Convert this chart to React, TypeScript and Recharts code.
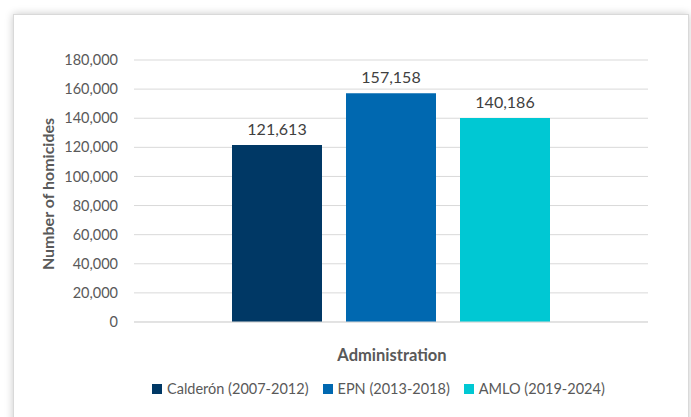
import { Bar, BarChart, CartesianGrid, LabelList, Legend, XAxis, YAxis } from 'recharts';

const categories = ['Homicides'];
const seriesNames = ['Calderón (2007-2012)', 'EPN (2013-2018)', 'AMLO (2019-2024)'];
const seriesKeys = ['calderon', 'epn', 'amlo'];
const seriesValues = [121613, 157158, 140186];
const seriesColors = ['#003865', '#0068b0', '#00c8d3'];
const yTicks = [0, 20000, 40000, 60000, 80000, 100000, 120000, 140000, 160000, 180000];

const data = categories.map((name) => {
  const row: Record<string, string | number> = { name };
  seriesKeys.forEach((k, i) => {
    row[k] = seriesValues[i];
  });
  return row;
});

const FONT = 'Lato, "Open Sans", sans-serif';
const TEXT = '#595959';
const GRID = '#d9d9d9';

const fmt = (v: number) => v.toLocaleString('en-US');

function LegendContent({ payload }: { payload?: Array<{ value: string; color: string }> }) {
  if (!payload) return null;
  // keep the series order instead of the alphabetical one
  const items = [...payload].sort((a, b) => seriesNames.indexOf(a.value) - seriesNames.indexOf(b.value));
  return (
    <div style={{ display: 'flex', alignItems: 'center', fontFamily: FONT, fontSize: 14.5, color: TEXT }}>
      {items.map((p) => (
        <div key={p.value} style={{ display: 'flex', alignItems: 'center', marginRight: 14 }}>
          <span style={{ width: 10, height: 10, background: p.color, marginRight: 5, display: 'inline-block' }} />
          <span>{p.value}</span>
        </div>
      ))}
    </div>
  );
}

export default function App() {
  return (
    <div
      style={{
        position: 'absolute',
        left: 0,
        top: 0,
        width: 691,
        height: 417,
        overflow: 'hidden',
        background: '#ffffff',
      }}
    >
      <style>{'body{margin:0}'}</style>
      <div
        style={{
          position: 'absolute',
          left: 13,
          top: 14,
          width: 674,
          height: 420,
          background: '#fff',
          border: '1px solid #d9d9d9',
          boxShadow: '0 0 8px rgba(0,0,0,0.22)',
        }}
      />
      <div style={{ position: 'absolute', left: 0, top: 0 }}>
        <BarChart
          width={691}
          height={417}
          data={data}
          margin={{ top: 60, right: 43, bottom: 25, left: 0 }}
          barSize={90}
          barGap={24}
        >
          <CartesianGrid vertical={false} stroke={GRID} strokeWidth={1} />
          <XAxis
            dataKey="name"
            tick={false}
            tickLine={false}
            axisLine={{ stroke: GRID }}
            height={50}
            label={{
              content: ({ viewBox }: any) => (
                <text
                  x={viewBox.x + viewBox.width / 2 + 1}
                  y={viewBox.y + 39}
                  textAnchor="middle"
                  fontFamily={FONT}
                  fontSize={16.5}
                  fontWeight="bold"
                  fill={TEXT}
                >
                  Administration
                </text>
              ),
            }}
          />
          <YAxis
            width={134}
            domain={[0, 180000]}
            ticks={yTicks}
            tickFormatter={fmt}
            axisLine={false}
            tickLine={false}
            tickSize={0}
            tickMargin={16}
            tick={{ fill: TEXT, fontSize: 14.5, fontFamily: FONT }}
            label={{
              content: ({ viewBox }: any) => {
                const cy = viewBox.y + viewBox.height / 2 + 3;
                return (
                  <text
                    x={47}
                    y={cy}
                    transform={`rotate(-90, 47, ${cy})`}
                    textAnchor="middle"
                    dominantBaseline="central"
                    fontFamily={FONT}
                    fontSize={16}
                    fontWeight="bold"
                    fill={TEXT}
                  >
                    Number of homicides
                  </text>
                );
              },
            }}
          />
          <Legend
            content={<LegendContent />}
            wrapperStyle={{ left: 152, top: 380, width: 'auto', height: 20 }}
          />
          {seriesKeys.map((k, i) => (
            <Bar key={k} dataKey={k} name={seriesNames[i]} fill={seriesColors[i]} isAnimationActive={false}>
              <LabelList
                dataKey={k}
                position="top"
                offset={10}
                formatter={(v: any) => fmt(Number(v))}
                fill="#404040"
                fontSize={16}
                fontFamily={FONT}
              />
            </Bar>
          ))}
        </BarChart>
      </div>
    </div>
  );
}
